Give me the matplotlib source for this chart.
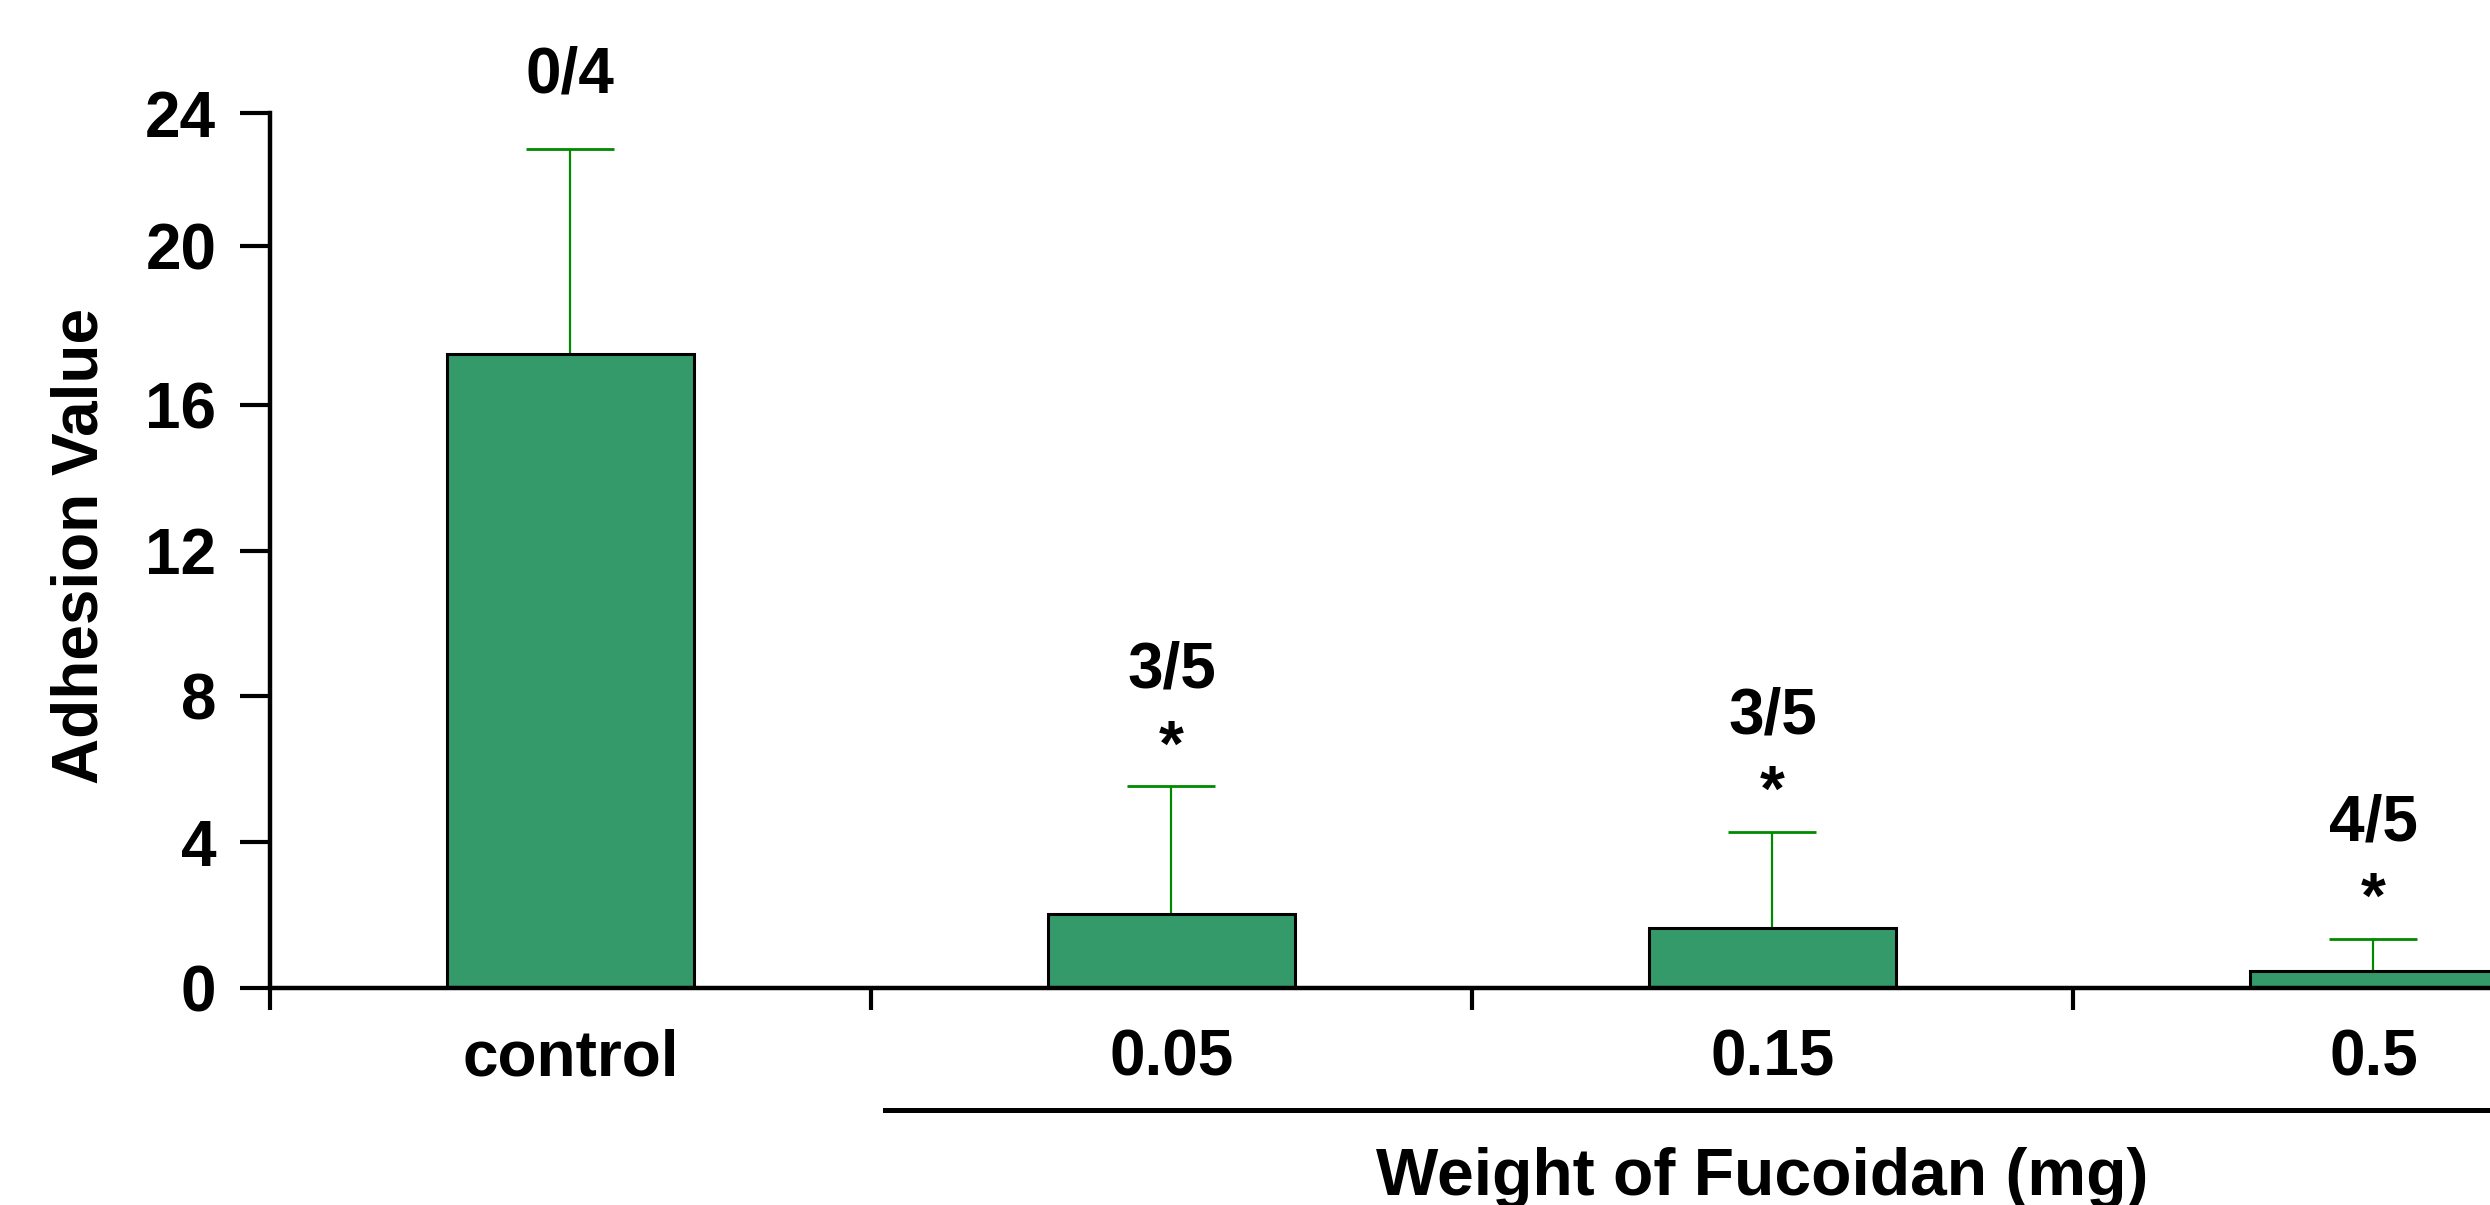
import numpy as np
import matplotlib
matplotlib.use("Agg")
import matplotlib.pyplot as plt
import matplotlib.transforms as mtransforms

# -----------------------------
# Data
# -----------------------------

groups = ["control", "0.05", "0.15", "0.5"]
adhesion = [17.4, 2.03, 1.65, 0.47]
adhesion_err = [5.6, 3.5, 2.63, 0.87]
ratio_labels = ["0/4", "3/5", "3/5", "4/5"]
sig_marks = ["", "*", "*", "*"]

ytick_values = [0, 4, 8, 12, 16, 20.35, 24]
ytick_labels = ["0", "4", "8", "12", "16", "20", "24"]

# -----------------------------
# Style
# -----------------------------

plt.rcParams["font.family"] = ["Liberation Sans", "DejaVu Sans"]
plt.rcParams["font.weight"] = "bold"
plt.rcParams["font.size"] = 46

bar_color = "#349a6a"
err_color = "#008a00"

fig = plt.figure(figsize=(24.9, 12.05), dpi=100)
ax = fig.add_axes([0.1084, 0.1801, 1 - 0.1084, 0.9062 - 0.1801])

x = np.arange(len(groups))

ax.errorbar(
    x,
    adhesion,
    yerr=[np.zeros(len(groups)), adhesion_err],
    fmt="none",
    ecolor=err_color,
    elinewidth=1.6,
    capsize=32,
    capthick=2.0,
    zorder=1
)

ax.bar(
    x,
    adhesion,
    width=0.41,
    color=bar_color,
    edgecolor="black",
    linewidth=2.2,
    zorder=2
)

# fraction and significance labels above the error bars
for xi, m, e, r, s in zip(x, adhesion, adhesion_err, ratio_labels, sig_marks):

    top = m + e

    if s:
        ax.annotate(s, (xi, top), xytext=(0, 15), textcoords="offset points",
                    ha="center", va="baseline", fontweight="bold")
        ax.annotate(r, (xi, top), xytext=(0, 71), textcoords="offset points",
                    ha="center", va="baseline", fontweight="bold")
    else:
        ax.annotate(r, (xi, top), xytext=(0, 41), textcoords="offset points",
                    ha="center", va="baseline", fontweight="bold",
                    annotation_clip=False)

# -----------------------------
# Axes
# -----------------------------

ax.set_xlim(-0.5, 3.194)
ax.set_ylim(0, 24)

for side in ["top", "right"]:
    ax.spines[side].set_visible(False)

for side in ["left", "bottom"]:
    ax.spines[side].set_linewidth(3.2)

ax.set_yticks(ytick_values)
ax.set_yticklabels(ytick_labels)
ax.tick_params(axis="y", direction="out", length=21.6, width=3.0, pad=17)

# boundaries get the tick marks, centres get the labels
ax.set_xticks([-0.5, 0.5, 1.5, 2.5])
ax.set_xticklabels([])
ax.set_xticks(x, groups, minor=True)
ax.tick_params(axis="x", which="major", direction="out", length=16, width=3.0)
ax.tick_params(axis="x", which="minor", length=0, pad=29)

# underline for the dose groups
trans = mtransforms.blended_transform_factory(ax.transData, ax.transAxes)
ax.plot([0.523, 3.3], [-0.139, -0.139], color="black", linewidth=3.6,
        transform=trans, clip_on=False)

fig.text(0.039, 0.547, "Adhesion Value", rotation=90, rotation_mode="anchor",
         ha="center", va="baseline", fontweight="bold")

ax.text(1.983, 0.0083, "Weight of Fucoidan (mg)", ha="center", va="baseline",
        fontweight="bold", fontsize=47.5,
        transform=mtransforms.blended_transform_factory(ax.transData, fig.transFigure))

fig.savefig("out.png", dpi=100)
